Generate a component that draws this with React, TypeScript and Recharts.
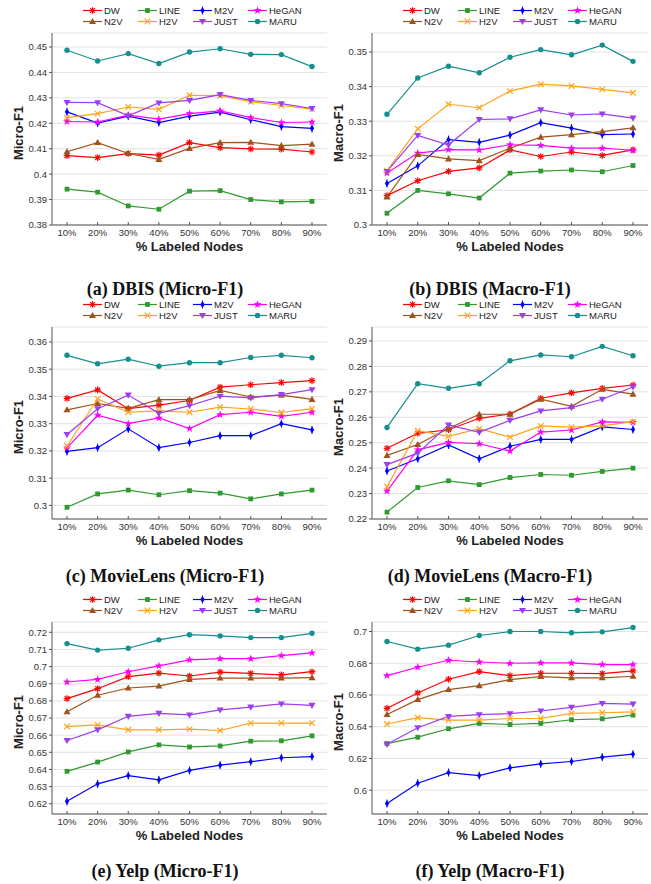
import React from "react";
import { LineChart, Line, XAxis, YAxis, CartesianGrid } from "recharts";

const LABELS = ["10%", "20%", "30%", "40%", "50%", "60%", "70%", "80%", "90%"];
// legend order, row by row
const METHODS = ["DW", "LINE", "M2V", "HeGAN", "N2V", "H2V", "JUST", "MARU"];

const COLORS: Record<string, string> = {
  DW: "#ff0000",
  LINE: "#2f9a2f",
  M2V: "#0000ff",
  HeGAN: "#ff00ff",
  N2V: "#a0521a",
  H2V: "#ffa31a",
  JUST: "#9b3df0",
  MARU: "#168f8f",
};

const SHAPES: Record<string, string> = {
  DW: "asterisk",
  LINE: "square",
  M2V: "diamond",
  HeGAN: "star",
  N2V: "triUp",
  H2V: "cross",
  JUST: "triDown",
  MARU: "circle",
};

const DBIS_MICRO_TICKS = [0.38, 0.39, 0.4, 0.41, 0.42, 0.43, 0.44, 0.45];
const DBIS_MACRO_TICKS = [0.3, 0.31, 0.32, 0.33, 0.34, 0.35];
const ML_MICRO_TICKS = [0.3, 0.31, 0.32, 0.33, 0.34, 0.35, 0.36];
const ML_MACRO_TICKS = [0.22, 0.23, 0.24, 0.25, 0.26, 0.27, 0.28, 0.29];
const YELP_MICRO_TICKS = [0.62, 0.63, 0.64, 0.65, 0.66, 0.67, 0.68, 0.69, 0.7, 0.71, 0.72];
const YELP_MACRO_TICKS = [0.6, 0.62, 0.64, 0.66, 0.68, 0.7];

const DBIS_MICRO: Record<string, number[]> = {
  DW: [0.4073, 0.4065, 0.4081, 0.4075, 0.4124, 0.4104, 0.4099, 0.4098, 0.4087],
  LINE: [0.3941, 0.3929, 0.3875, 0.3862, 0.3933, 0.3935, 0.39, 0.3891, 0.3893],
  M2V: [0.4245, 0.4201, 0.4228, 0.4203, 0.4228, 0.4244, 0.4214, 0.4187, 0.418],
  HeGAN: [0.4207, 0.4205, 0.4232, 0.4216, 0.4238, 0.4249, 0.4222, 0.4203, 0.4205],
  N2V: [0.4088, 0.4124, 0.4081, 0.4058, 0.4101, 0.4124, 0.4125, 0.4112, 0.4118],
  H2V: [0.4222, 0.4238, 0.4264, 0.4255, 0.431, 0.4309, 0.4285, 0.427, 0.4256],
  JUST: [0.4282, 0.4281, 0.4229, 0.428, 0.429, 0.4313, 0.429, 0.4277, 0.4258],
  MARU: [0.4487, 0.4445, 0.4474, 0.4435, 0.448, 0.4493, 0.4471, 0.447, 0.4423],
};

const DBIS_MACRO: Record<string, number[]> = {
  DW: [0.3085, 0.3128, 0.3155, 0.3165, 0.3217, 0.3198, 0.3211, 0.3201, 0.3217],
  LINE: [0.3034, 0.31, 0.309, 0.3078, 0.315, 0.3156, 0.3159, 0.3154, 0.3172],
  M2V: [0.312, 0.3171, 0.3247, 0.3239, 0.326, 0.3296, 0.328, 0.3261, 0.3263],
  HeGAN: [0.315, 0.3208, 0.3218, 0.3217, 0.3232, 0.323, 0.3222, 0.3222, 0.3216],
  N2V: [0.3081, 0.3204, 0.3191, 0.3186, 0.3222, 0.3254, 0.3261, 0.327, 0.3281],
  H2V: [0.3157, 0.3278, 0.3349, 0.3339, 0.3387, 0.3407, 0.3402, 0.3392, 0.3382],
  JUST: [0.3155, 0.3259, 0.3231, 0.3305, 0.3307, 0.3333, 0.3318, 0.3321, 0.3309],
  MARU: [0.332, 0.3425, 0.3459, 0.344, 0.3485, 0.3507, 0.3492, 0.352, 0.3473],
};

const ML_MICRO: Record<string, number[]> = {
  DW: [0.3393, 0.3424, 0.3355, 0.3368, 0.3385, 0.3434, 0.3443, 0.3451, 0.3458],
  LINE: [0.2993, 0.3042, 0.3056, 0.3039, 0.3054, 0.3045, 0.3024, 0.3042, 0.3056],
  M2V: [0.3198, 0.3212, 0.3281, 0.3212, 0.3231, 0.3256, 0.3256, 0.33, 0.3277],
  HeGAN: [0.3211, 0.3331, 0.33, 0.3321, 0.3282, 0.3333, 0.3342, 0.3327, 0.3342],
  N2V: [0.3351, 0.3374, 0.3356, 0.3388, 0.3388, 0.3422, 0.3398, 0.3405, 0.3389],
  H2V: [0.3218, 0.3391, 0.3342, 0.3347, 0.3342, 0.3361, 0.3354, 0.3341, 0.3355],
  JUST: [0.326, 0.3355, 0.3405, 0.3338, 0.3366, 0.3401, 0.3395, 0.3407, 0.3425],
  MARU: [0.3551, 0.352, 0.3537, 0.3511, 0.3524, 0.3524, 0.3543, 0.3551, 0.3542],
};

const ML_MACRO: Record<string, number[]> = {
  DW: [0.2478, 0.2537, 0.2551, 0.2596, 0.2613, 0.2675, 0.2696, 0.2714, 0.2727],
  LINE: [0.2227, 0.2324, 0.235, 0.2335, 0.2363, 0.2375, 0.2372, 0.2387, 0.24],
  M2V: [0.2389, 0.2437, 0.2491, 0.2437, 0.2486, 0.2513, 0.2513, 0.2562, 0.2552],
  HeGAN: [0.231, 0.2472, 0.2501, 0.2496, 0.2467, 0.2542, 0.255, 0.2582, 0.258],
  N2V: [0.245, 0.2493, 0.2556, 0.2612, 0.2612, 0.2671, 0.2643, 0.271, 0.2691],
  H2V: [0.2327, 0.2547, 0.2525, 0.2555, 0.2522, 0.2566, 0.2561, 0.2566, 0.2583],
  JUST: [0.2414, 0.2459, 0.257, 0.2541, 0.2588, 0.2625, 0.2638, 0.2671, 0.2719],
  MARU: [0.256, 0.2732, 0.2714, 0.2732, 0.2822, 0.2845, 0.2838, 0.2879, 0.2842],
};

const YELP_MICRO: Record<string, number[]> = {
  DW: [0.6813, 0.6871, 0.6941, 0.6962, 0.6945, 0.6968, 0.696, 0.6952, 0.697],
  LINE: [0.6389, 0.6443, 0.6502, 0.6543, 0.6531, 0.6537, 0.6565, 0.6567, 0.6596],
  M2V: [0.6214, 0.6316, 0.6364, 0.6339, 0.6394, 0.6425, 0.6445, 0.6468, 0.6475],
  HeGAN: [0.691, 0.6925, 0.697, 0.7004, 0.7039, 0.7046, 0.7046, 0.7064, 0.708],
  N2V: [0.6736, 0.6833, 0.6875, 0.6886, 0.6925, 0.6933, 0.6933, 0.6933, 0.6935],
  H2V: [0.665, 0.666, 0.6631, 0.6631, 0.6635, 0.6627, 0.667, 0.667, 0.667],
  JUST: [0.6569, 0.6631, 0.671, 0.6727, 0.6718, 0.6747, 0.6764, 0.6782, 0.6774],
  MARU: [0.7134, 0.7096, 0.7107, 0.7156, 0.7186, 0.7179, 0.7169, 0.7169, 0.7194],
};

const YELP_MACRO: Record<string, number[]> = {
  DW: [0.6516, 0.6613, 0.6699, 0.6747, 0.6722, 0.6737, 0.6737, 0.6735, 0.6752],
  LINE: [0.6294, 0.6334, 0.6387, 0.6421, 0.6414, 0.6421, 0.6444, 0.645, 0.6473],
  M2V: [0.5916, 0.6044, 0.6111, 0.6092, 0.6141, 0.6166, 0.6181, 0.6208, 0.6227],
  HeGAN: [0.6722, 0.6775, 0.6819, 0.6808, 0.68, 0.6802, 0.6802, 0.6792, 0.6792],
  N2V: [0.6477, 0.6571, 0.6634, 0.6659, 0.6697, 0.6716, 0.6708, 0.6708, 0.6718],
  H2V: [0.6417, 0.6457, 0.6442, 0.6442, 0.6452, 0.6452, 0.6484, 0.6488, 0.6494],
  JUST: [0.6289, 0.6394, 0.6465, 0.6476, 0.6482, 0.6499, 0.6522, 0.6547, 0.6543],
  MARU: [0.6937, 0.6889, 0.6914, 0.6975, 0.7, 0.7, 0.6992, 0.6998, 0.7025],
};

const SANS = "'Liberation Sans', Arial, Helvetica, sans-serif";
const SERIF = "'Liberation Serif', 'Times New Roman', serif";
const AXIS = "#555";
const PLOT_TOP = 33;
const PLOT_H = 192;

const PANELS = [
  { caption: "(a) DBIS (Micro-F1)", yLabel: "Micro-F1", series: DBIS_MICRO, ticks: DBIS_MICRO_TICKS, domain: [0.38, 0.4555], left: 0, top: 0, width: 327, axisW: 52, capGap: 64 },
  { caption: "(b) DBIS (Macro-F1)", yLabel: "Macro-F1", series: DBIS_MACRO, ticks: DBIS_MACRO_TICKS, domain: [0.3, 0.3555], left: 325, top: 0, width: 323, axisW: 47, capGap: 64 },
  { caption: "(c) MovieLens (Micro-F1)", yLabel: "Micro-F1", series: ML_MICRO, ticks: ML_MICRO_TICKS, domain: [0.295, 0.3655], left: 0, top: 294, width: 327, axisW: 52, capGap: 57 },
  { caption: "(d) MovieLens (Macro-F1)", yLabel: "Macro-F1", series: ML_MACRO, ticks: ML_MACRO_TICKS, domain: [0.22, 0.2955], left: 325, top: 294, width: 323, axisW: 47, capGap: 57 },
  { caption: "(e) Yelp (Micro-F1)", yLabel: "Micro-F1", series: YELP_MICRO, ticks: YELP_MICRO_TICKS, domain: [0.614, 0.726], left: 0, top: 589, width: 327, axisW: 52, capGap: 57 },
  { caption: "(f) Yelp (Macro-F1)", yLabel: "Macro-F1", series: YELP_MACRO, ticks: YELP_MACRO_TICKS, domain: [0.585, 0.706], left: 325, top: 589, width: 323, axisW: 47, capGap: 57 },
];

const fmt = (v: number) => String(Number(v.toFixed(2)));

function Marker({ shape, cx, cy, color }: any) {
  switch (shape) {
    case "circle":
      return <circle cx={cx} cy={cy} r={2.7} fill={color} />;
    case "square":
      return <rect x={cx - 2.4} y={cy - 2.4} width={4.8} height={4.8} fill={color} />;
    case "diamond":
      return (
        <g>
          <polygon points={`${cx},${cy - 3.4} ${cx + 2.2},${cy} ${cx},${cy + 3.4} ${cx - 2.2},${cy}`} fill={color} />
          <line x1={cx} x2={cx} y1={cy - 4} y2={cy + 4} stroke={color} strokeWidth={1} />
        </g>
      );
    case "triUp":
      return <polygon points={`${cx},${cy - 3.6} ${cx + 3.5},${cy + 2.5} ${cx - 3.5},${cy + 2.5}`} fill={color} />;
    case "triDown":
      return <polygon points={`${cx},${cy + 3.6} ${cx + 3.5},${cy - 2.5} ${cx - 3.5},${cy - 2.5}`} fill={color} />;
    case "cross":
      return (
        <g stroke={color} strokeWidth={1.2}>
          <line x1={cx - 2.8} y1={cy - 2.8} x2={cx + 2.8} y2={cy + 2.8} />
          <line x1={cx - 2.8} y1={cy + 2.8} x2={cx + 2.8} y2={cy - 2.8} />
        </g>
      );
    case "asterisk":
      return (
        <g stroke={color} strokeWidth={1.2}>
          <line x1={cx - 3.3} y1={cy} x2={cx + 3.3} y2={cy} />
          <line x1={cx} y1={cy - 3.3} x2={cx} y2={cy + 3.3} />
          <line x1={cx - 2.4} y1={cy - 2.4} x2={cx + 2.4} y2={cy + 2.4} />
          <line x1={cx - 2.4} y1={cy + 2.4} x2={cx + 2.4} y2={cy - 2.4} />
        </g>
      );
    case "star": {
      const pts: string[] = [];
      for (let k = 0; k < 10; k++) {
        const r = k % 2 === 0 ? 4.2 : 1.7;
        const a = -Math.PI / 2 + (k * Math.PI) / 5;
        pts.push(`${cx + r * Math.cos(a)},${cy + r * Math.sin(a)}`);
      }
      return <polygon points={pts.join(" ")} fill={color} />;
    }
    default:
      return null;
  }
}

const XTick = (p: any) => (
  <g>
    <line x1={p.x} x2={p.x} y1={p.y} y2={p.y - 3} stroke={AXIS} />
    <text x={p.x} y={p.y + 11} textAnchor="middle" fontSize={9.5} fill="#333" fontFamily={SANS}>
      {p.payload.value}
    </text>
  </g>
);

function LegendBox({ left, top }: { left: number; top: number }) {
  return (
    <div
      style={{
        position: "absolute",
        left,
        top,
        display: "grid",
        gridTemplateColumns: "repeat(4, 55px)",
        fontFamily: SANS,
        fontSize: 9.5,
        color: "#222",
      }}
    >
      {METHODS.map((m) => (
        <div key={m} style={{ display: "flex", alignItems: "center", height: 11 }}>
          <svg width={19} height={11} style={{ display: "block" }}>
            <line x1={0} x2={19} y1={5.5} y2={5.5} stroke={COLORS[m]} strokeWidth={1.2} />
            <Marker shape={SHAPES[m]} cx={9.5} cy={5.5} color={COLORS[m]} />
          </svg>
          <span style={{ marginLeft: 2, lineHeight: "11px" }}>{m}</span>
        </div>
      ))}
    </div>
  );
}

function Panel({ cfg }: { cfg: any }) {
  const rows = LABELS.map((label, i) => {
    const row: any = { label };
    METHODS.forEach((m) => (row[m] = cfg.series[m][i]));
    return row;
  });
  const axisY = PLOT_TOP + PLOT_H;
  const plotW = cfg.width - cfg.axisW;

  return (
    <div style={{ position: "absolute", left: cfg.left, top: cfg.top, width: cfg.width, height: 295 }}>
      <LineChart width={cfg.width} height={260} data={rows} margin={{ top: PLOT_TOP, right: 0, bottom: 0, left: 0 }}>
        <CartesianGrid vertical={false} stroke="#e2e2e2" />
        <XAxis
          dataKey="label"
          height={35}
          interval={0}
          padding={{ left: 15, right: 15 }}
          axisLine={{ stroke: AXIS }}
          tickLine={false}
          tickSize={0}
          tickMargin={0}
          tick={<XTick />}
        />
        <YAxis
          type="number"
          width={cfg.axisW}
          domain={cfg.domain}
          ticks={cfg.ticks}
          allowDataOverflow
          interval={0}
          tickFormatter={fmt}
          tickSize={3}
          tickMargin={2}
          axisLine={{ stroke: AXIS }}
          tickLine={{ stroke: AXIS }}
          tick={{ fontSize: 9.5, fill: "#333", fontFamily: SANS }}
        />
        {METHODS.map((m) => (
          <Line
            key={m}
            type="linear"
            dataKey={m}
            stroke={COLORS[m]}
            strokeWidth={1.2}
            activeDot={false}
            isAnimationActive={false}
            dot={(p: any) => <Marker key={`${m}-${p.index}`} shape={SHAPES[m]} cx={p.cx} cy={p.cy} color={COLORS[m]} />}
          />
        ))}
      </LineChart>

      <LegendBox left={cfg.axisW + 31} top={PLOT_TOP - 28.5} />

      {/* y axis title */}
      <div
        style={{
          position: "absolute",
          left: cfg.axisW - 34,
          top: PLOT_TOP + PLOT_H / 2 + 4,
          transform: "translate(-50%, -50%) rotate(-90deg)",
          fontFamily: SANS,
          fontWeight: "bold",
          fontSize: 13,
          lineHeight: "13px",
          whiteSpace: "nowrap",
          color: "#222",
        }}
      >
        {cfg.yLabel}
      </div>

      {/* x axis title */}
      <div
        style={{
          position: "absolute",
          left: cfg.axisW,
          width: plotW,
          top: axisY + 15,
          textAlign: "center",
          fontFamily: SANS,
          fontWeight: "bold",
          fontSize: 13,
          lineHeight: "13px",
          color: "#222",
        }}
      >
        % Labeled Nodes
      </div>

      <div
        style={{
          position: "absolute",
          left: 0,
          width: 330,
          top: axisY + cfg.capGap - 10,
          textAlign: "center",
          fontFamily: SERIF,
          fontWeight: "bold",
          fontSize: 18,
          lineHeight: "20px",
          color: "#111",
          whiteSpace: "nowrap",
        }}
      >
        {cfg.caption}
      </div>
    </div>
  );
}

export default function App() {
  return (
    <div style={{ position: "absolute", left: 0, top: 0, width: 651, height: 884, background: "#fff", overflow: "hidden" }}>
      {PANELS.map((cfg) => (
        <Panel key={cfg.caption} cfg={cfg} />
      ))}
    </div>
  );
}
